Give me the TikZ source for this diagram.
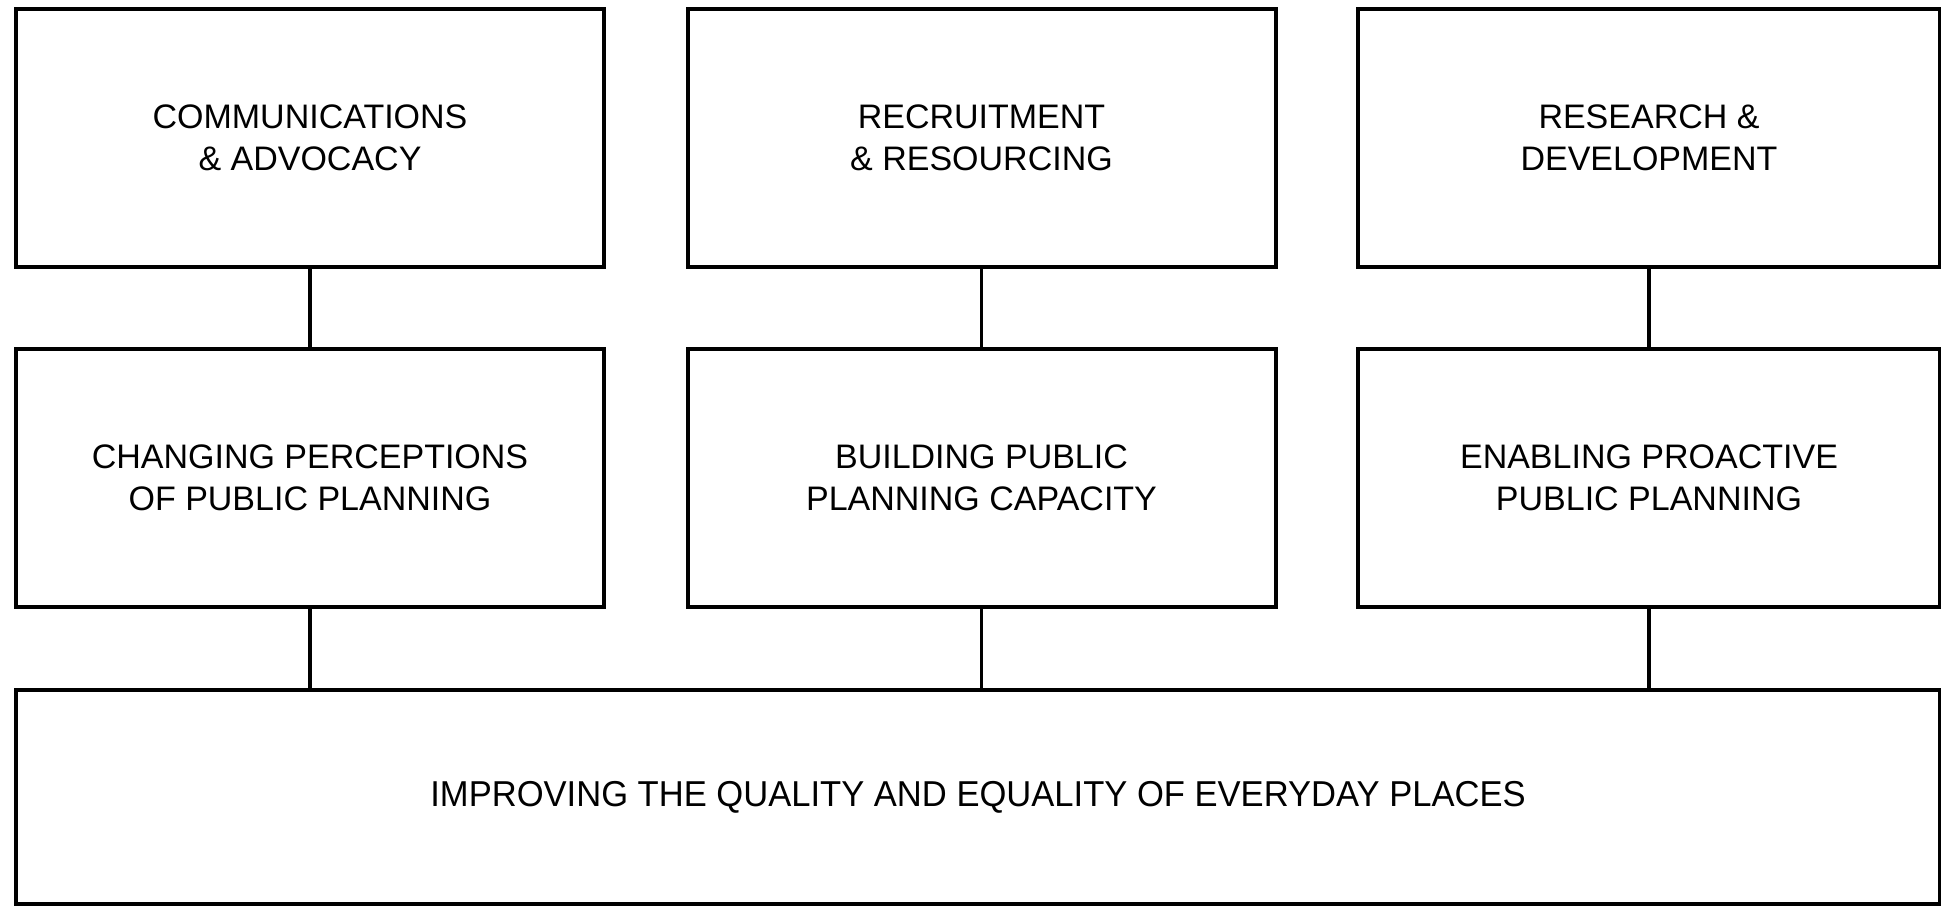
\documentclass[tikz,border=0pt]{standalone}
\usepackage{fontspec}
\setmainfont{Liberation Sans}
\usetikzlibrary{positioning}

\newlength{\du}
\setlength{\du}{0.5pt}

\tikzset{
  planbox/.style={draw=black, line width=2pt, fill=white, rectangle,
    minimum width=588\du, minimum height=258\du, inner sep=0pt,
    align=center, font=\fontsize{17}{21}\selectfont},
  baseline box/.style={planbox, minimum width=1924\du, minimum height=214\du,
    font=\fontsize{18}{21}\selectfont},
  link/.style={draw=black, line width=1.6pt}
}

\begin{document}
\begin{tikzpicture}
\useasboundingbox (0\du,0\du) rectangle (1941\du,-906\du);
% top row
\node[planbox] (comms) at (310\du,-137.5\du){COMMUNICATIONS\\\& ADVOCACY};
\node[planbox] (recruit) at (981.5\du,-137.5\du){RECRUITMENT\\\& RESOURCING};
\node[planbox, minimum width=582\du] (research) at (1649\du,-137.5\du){RESEARCH \&\\DEVELOPMENT};
% middle row
\node[planbox] (percept) at (310\du,-477.5\du){CHANGING PERCEPTIONS\\OF PUBLIC PLANNING};
\node[planbox] (capacity) at (981.5\du,-477.5\du){BUILDING PUBLIC\\PLANNING CAPACITY};
\node[planbox, minimum width=582\du] (proactive) at (1649\du,-477.5\du){ENABLING PROACTIVE\\PUBLIC PLANNING};
% bottom row, set a little narrower
\node[baseline box] (places) at (978\du,-797\du){\scalebox{0.96}[1]{IMPROVING THE QUALITY AND EQUALITY OF EVERYDAY PLACES}};
% links
\draw[link] (comms.south) -- (percept.north);
\draw[link] (recruit.south) -- (capacity.north);
\draw[link] (research.south) -- (proactive.north);
\draw[link] (percept.south) -- (percept.south |- places.north);
\draw[link] (capacity.south) -- (capacity.south |- places.north);
\draw[link] (proactive.south) -- (proactive.south |- places.north);
\end{tikzpicture}
\end{document}
